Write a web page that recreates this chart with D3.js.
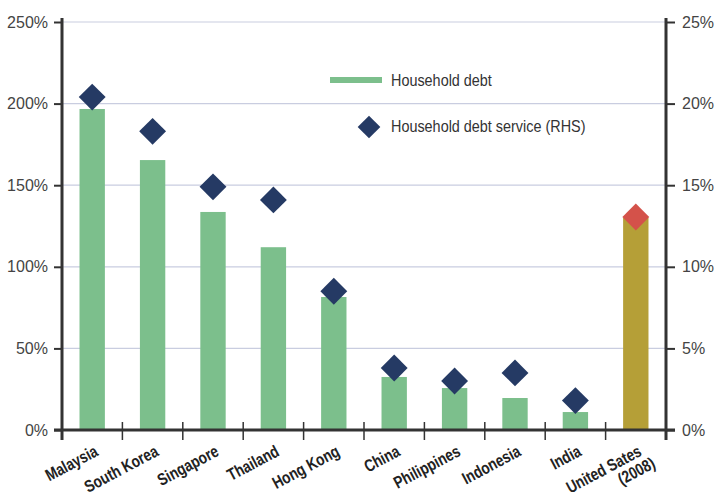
<!DOCTYPE html>
<html><head><meta charset="utf-8">
<script src="https://cdn.jsdelivr.net/npm/d3@7"></script>
<style>
body{margin:0;background:#fff;}
text{font-family:"Liberation Sans",Arial,sans-serif;}
</style></head>
<body><svg id="c" width="715" height="492"></svg>
<script>
const categories=["Malaysia","South Korea","Singapore","Thailand","Hong Kong","China","Philippines","Indonesia","India","United Sates\n(2008)"];
const householdDebt=[196.7,165.4,133.6,112,81.5,32.5,25.7,19.6,11,130];
const debtService=[20.4,18.3,14.9,14.1,8.5,3.8,3.0,3.5,1.8,13.05];
const leftTicks=[0,50,100,150,200,250];
const rightTicks=[0,5,10,15,20,25];
const highlight="United Sates\n(2008)";

const svg=d3.select("#c");
const L=62,R=666,T=22,B=430;
const x=d3.scaleBand().domain(categories).range([L,R]).paddingInner(0.58).paddingOuter(0.29);
const yL=d3.scaleLinear().domain([0,250]).range([B,T]);
const yR=d3.scaleLinear().domain([0,25]).range([B,T]);

// gridlines
svg.append("g").selectAll("line").data(leftTicks.filter(d=>d>0)).join("line")
 .attr("x1",L).attr("x2",R).attr("y1",d=>yL(d)).attr("y2",d=>yL(d))
 .attr("stroke","#c9cde0").attr("stroke-width",1.2);

// bars
svg.append("g").selectAll("rect").data(categories).join("rect")
 .attr("x",d=>x(d)).attr("width",x.bandwidth())
 .attr("y",(d,i)=>yL(householdDebt[i])).attr("height",(d,i)=>B-yL(householdDebt[i]))
 .attr("fill",d=>d===highlight?"#b59f37":"#7cbf8c");

// diamonds
const ds=19;
svg.append("g").selectAll("rect").data(categories).join("rect")
 .attr("x",-ds/2).attr("y",-ds/2).attr("width",ds).attr("height",ds)
 .attr("transform",(d,i)=>`translate(${x(d)+x.bandwidth()/2},${yR(debtService[i])}) rotate(45)`)
 .attr("fill",d=>d===highlight?"#d4524a":"#253a64");

// left axis
const gl=svg.append("g").attr("transform",`translate(${L},0)`)
 .call(d3.axisLeft(yL).tickValues(leftTicks).tickFormat(d=>d+"%").tickSize(8).tickPadding(6));
gl.select(".domain").remove();
gl.selectAll(".tick line").attr("stroke","#333").attr("stroke-width",2);
gl.selectAll(".tick text").attr("font-size",16).attr("fill","#444").style("font-family","'Liberation Sans',Arial,sans-serif");
svg.append("line").attr("x1",L).attr("x2",L).attr("y1",T-4).attr("y2",B+10).attr("stroke","#333").attr("stroke-width",3);

// right axis
const gr=svg.append("g").attr("transform",`translate(${R},0)`)
 .call(d3.axisRight(yR).tickValues(rightTicks).tickFormat(d=>d+"%").tickSize(9).tickPadding(7));
gr.select(".domain").remove();
gr.selectAll(".tick line").attr("stroke","#333").attr("stroke-width",2);
gr.selectAll(".tick text").attr("font-size",16).attr("fill","#444").style("font-family","'Liberation Sans',Arial,sans-serif");
svg.append("line").attr("x1",R).attr("x2",R).attr("y1",T-4).attr("y2",B+10).attr("stroke","#333").attr("stroke-width",3);

// bottom axis
svg.append("line").attr("x1",L-8).attr("x2",R+9).attr("y1",B).attr("y2",B).attr("stroke","#333").attr("stroke-width",3);
const step=x.step();
const sepTicks=categories.slice(1).map(c=>x(c)+x.bandwidth()/2-step/2);
svg.append("g").selectAll("line").data(sepTicks).join("line")
 .attr("x1",d=>d).attr("x2",d=>d).attr("y1",B-8).attr("y2",B+10).attr("stroke","#333").attr("stroke-width",1.5);

// category labels
const lab=svg.append("g").selectAll("text").data(categories).join("text")
 .attr("transform",d=>`translate(${x(d)+x.bandwidth()/2+7},${B+25}) rotate(-28) scale(0.8,1)`)
 .attr("text-anchor","end").attr("font-size",17).attr("font-weight","bold").attr("fill","#222");
lab.each(function(d){
 const lines=d.split("\n");
 const t=d3.select(this);
 lines.forEach((ln,k)=>{
   t.append("tspan").attr("x",k*8).attr("dy",k===0?0:17).text(ln);
 });
});

// legend
svg.append("line").attr("x1",330).attr("x2",382).attr("y1",80).attr("y2",80).attr("stroke","#7cbf8c").attr("stroke-width",6);
svg.append("text").attr("transform","translate(391,86) scale(0.9,1)").attr("font-size",16).attr("fill","#333").text("Household debt");
svg.append("rect").attr("x",-8).attr("y",-8).attr("width",16).attr("height",16)
 .attr("transform","translate(369,127) rotate(45)").attr("fill","#253a64");
svg.append("text").attr("transform","translate(391,132) scale(0.9,1)").attr("font-size",16).attr("fill","#333").text("Household debt service (RHS)");
</script></body></html>
